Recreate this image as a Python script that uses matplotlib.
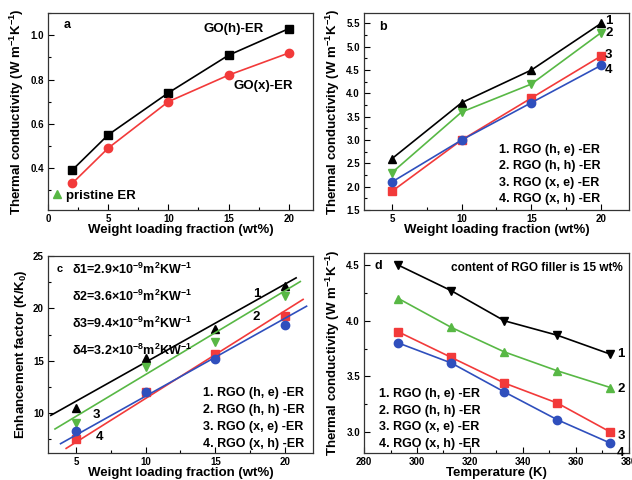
import matplotlib
matplotlib.use("Agg")
import matplotlib.pyplot as plt
from matplotlib.ticker import AutoMinorLocator, MultipleLocator
from matplotlib.lines import Line2D

plt.rcParams['font.family'] = ['Liberation Sans', 'Noto Sans CJK SC', 'DejaVu Sans']
plt.rcParams['font.weight'] = 'bold'
plt.rcParams['axes.labelweight'] = 'bold'
plt.rcParams['mathtext.fontset'] = 'custom'
plt.rcParams['mathtext.rm'] = 'Liberation Sans:bold'
plt.rcParams['mathtext.bf'] = 'Liberation Sans:bold'
plt.rcParams['mathtext.default'] = 'bf'

# ---- data ----
# (a) GO composites
wt_a = [2, 5, 10, 15, 20]
go_h = [0.39, 0.55, 0.74, 0.91, 1.03]
go_x = [0.33, 0.49, 0.70, 0.82, 0.92]

# (b) RGO composites, thermal conductivity vs loading
wt_b = [5, 10, 15, 20]
b_he = [2.6, 3.8, 4.5, 5.5]
b_hh = [2.3, 3.6, 4.2, 5.3]
b_xe = [1.9, 3.0, 3.9, 4.8]
b_xh = [2.1, 3.0, 3.8, 4.6]

# (c) enhancement factor
c_he = [10.5, 15.3, 18.05, 22.15]
c_hh = [9.1, 14.4, 16.75, 21.2]
c_xe = [7.5, 12.0, 15.6, 19.25]
c_xh = [8.3, 12.0, 15.2, 18.4]
# fitted lines: (x start, y start, x end, y end)
fit_he = (3.2, 9.8, 20.8, 22.9)
fit_hh = (3.5, 8.5, 21.1, 22.55)
fit_xe = (4.3, 6.65, 21.3, 20.85)
fit_xh = (3.9, 7.1, 21.55, 20.2)
deltas = ["δ1=2.9×10$^{-9}$m$^{2}$KW$^{-1}$",
          "δ2=3.6×10$^{-9}$m$^{2}$KW$^{-1}$",
          "δ3=9.4×10$^{-9}$m$^{2}$KW$^{-1}$",
          "δ4=3.2×10$^{-8}$m$^{2}$KW$^{-1}$"]

# (d) temperature dependence at 15 wt%
temp = [293, 313, 333, 353, 373]
d_he = [4.5, 4.27, 4.0, 3.87, 3.7]
d_hh = [4.2, 3.94, 3.72, 3.55, 3.4]
d_xe = [3.9, 3.67, 3.44, 3.26, 3.0]
d_xh = [3.8, 3.62, 3.36, 3.11, 2.9]

names = ["1. RGO (h, e) -ER", "2. RGO (h, h) -ER",
         "3. RGO (x, e) -ER", "4. RGO (x, h) -ER"]

BLACK = '#000000'
RED = '#f23a3a'
GREEN = '#58b845'
BLUE = '#2f4fbd'

TICK = 7
LAB = 9.5
TXT = 9

fig = plt.figure(figsize=(6.32, 4.8), dpi=100)
ax_a = fig.add_axes([0.076, 0.5625, 0.419, 0.41])
ax_b = fig.add_axes([0.576, 0.5625, 0.419, 0.41])
ax_c = fig.add_axes([0.076, 0.056, 0.419, 0.411])
ax_d = fig.add_axes([0.576, 0.056, 0.419, 0.417])


def style(ax):
    ax.tick_params(which='both', direction='in', top=False, right=False,
                   labelsize=TICK, pad=3)
    ax.tick_params(which='major', length=4, width=0.8)
    ax.tick_params(which='minor', length=2, width=0.8)
    for s in ax.spines.values():
        s.set_linewidth(0.9)
        s.set_color('#333333')
    ax.xaxis.set_minor_locator(AutoMinorLocator(2))
    ax.yaxis.set_minor_locator(AutoMinorLocator(2))


ylab_tc = "Thermal conductivity (W m$^{-1}$K$^{-1}$)"
xlab_wt = "Weight loading fraction (wt%)"

# ---- (a) ----
ax = ax_a
ax.plot(wt_a, go_h, color=BLACK, marker='s', ms=5.5, lw=1.2)
ax.plot(wt_a, go_x, color=RED, marker='o', ms=6, lw=1.2)
ax.set_xlim(0, 22)
ax.set_ylim(0.21, 1.1)
ax.xaxis.set_major_locator(MultipleLocator(5))
ax.set_yticks([0.4, 0.6, 0.8, 1.0])
style(ax)
ax.set_xlabel(xlab_wt, fontsize=LAB, labelpad=0)
ax.set_ylabel(ylab_tc, fontsize=LAB, labelpad=3)
ax.text(0.057, 0.94, "a", transform=ax.transAxes, fontsize=TXT, va='center')
ax.text(15.4, 1.03, "GO(h)-ER", fontsize=TXT + 0.5, ha='center', va='center')
ax.text(17.9, 0.77, "GO(x)-ER", fontsize=TXT + 0.5, ha='center', va='center')
h = Line2D([], [], color=GREEN, marker='^', ls='none', ms=6)
ax.legend([h], ["pristine ER"], loc='lower left', frameon=False,
          fontsize=TXT + 0.5, handletextpad=0.0, handlelength=1.4,
          borderaxespad=0.2, bbox_to_anchor=(-0.03, 0.0))

# ---- (b) ----
ax = ax_b
series_b = [(b_he, BLACK, '^'), (b_hh, GREEN, 'v'), (b_xe, RED, 's'), (b_xh, BLUE, 'o')]
offs_b = [(3, 2), (3, 0), (3, 1), (3, -3)]
for i, (ys, col, mk) in enumerate(series_b):
    ax.plot(wt_b, ys, color=col, marker=mk, ms=6, lw=1.2)
    ax.annotate(str(i + 1), (wt_b[-1], ys[-1]), xytext=offs_b[i],
                textcoords='offset points', fontsize=TXT + 0.5, va='center')
ax.set_xlim(3, 22)
ax.set_ylim(1.5, 5.72)
ax.xaxis.set_major_locator(MultipleLocator(5))
ax.yaxis.set_major_locator(MultipleLocator(0.5))
style(ax)
ax.set_xlabel(xlab_wt, fontsize=LAB, labelpad=0)
ax.set_ylabel(ylab_tc, fontsize=LAB, labelpad=3)
ax.text(0.057, 0.93, "b", transform=ax.transAxes, fontsize=TXT, va='center')
for i, n in enumerate(names):
    ax.text(0.51, 0.305 - 0.083 * i, n, transform=ax.transAxes,
            fontsize=TXT, va='center')

# ---- (c) ----
ax = ax_c
series_c = [(c_he, fit_he, BLACK, '^'), (c_hh, fit_hh, GREEN, 'v'),
            (c_xe, fit_xe, RED, 's'), (c_xh, fit_xh, BLUE, 'o')]
for ys, fit, col, mk in series_c:
    ax.plot(wt_b, ys, color=col, marker=mk, ms=6, ls='none')
    ax.plot([fit[0], fit[2]], [fit[1], fit[3]], color=col, lw=1.2)
ax.set_xlim(3, 22)
ax.set_ylim(6.2, 25)
ax.xaxis.set_major_locator(MultipleLocator(5))
ax.yaxis.set_major_locator(MultipleLocator(5))
style(ax)
ax.set_xlabel(xlab_wt, fontsize=LAB, labelpad=0)
ax.set_ylabel("Enhancement factor (K/K$_{0}$)", fontsize=LAB, labelpad=3)
ax.text(0.034, 0.934, "c", transform=ax.transAxes, fontsize=TXT - 1, va='center')
for i, d in enumerate(deltas):
    ax.text(0.09, 0.929 - 0.136 * i, d, transform=ax.transAxes,
            fontsize=TXT, va='center')
for i, n in enumerate(names):
    ax.text(0.585, 0.305 - 0.087 * i, n, transform=ax.transAxes,
            fontsize=TXT, va='center')
ax.text(17.97, 21.4, "1", fontsize=TXT + 0.5, ha='center', va='center')
ax.text(17.97, 19.15, "2", fontsize=TXT + 0.5, ha='center', va='center')
ax.text(6.5, 9.87, "3", fontsize=TXT + 0.5, ha='center', va='center')
ax.text(6.7, 7.7, "4", fontsize=TXT + 0.5, ha='center', va='center')

# ---- (d) ----
ax = ax_d
series_d = [(d_he, BLACK, 'v'), (d_hh, GREEN, '^'), (d_xe, RED, 's'), (d_xh, BLUE, 'o')]
offs_d = [(5, 0), (5, -1), (5, -3), (5, -7)]
for i, (ys, col, mk) in enumerate(series_d):
    ax.plot(temp, ys, color=col, marker=mk, ms=6, lw=1.2)
    ax.annotate(str(i + 1), (temp[-1], ys[-1]), xytext=offs_d[i],
                textcoords='offset points', fontsize=TXT + 0.5, va='center')
ax.set_xlim(280, 380)
ax.set_ylim(2.81, 4.61)
ax.xaxis.set_major_locator(MultipleLocator(20))
ax.yaxis.set_major_locator(MultipleLocator(0.5))
style(ax)
ax.set_xlabel("Temperature (K)", fontsize=LAB, labelpad=0)
ax.set_ylabel(ylab_tc, fontsize=LAB, labelpad=3)
ax.text(0.038, 0.935, "d", transform=ax.transAxes, fontsize=TXT, va='center')
ax.text(0.977, 0.925, "content of RGO filler is 15 wt%", transform=ax.transAxes,
        fontsize=TXT - 0.5, ha='right', va='center')
for i, n in enumerate(names):
    ax.text(0.057, 0.295 - 0.083 * i, n, transform=ax.transAxes,
            fontsize=TXT, va='center')

fig.savefig("out.png", dpi=100)
